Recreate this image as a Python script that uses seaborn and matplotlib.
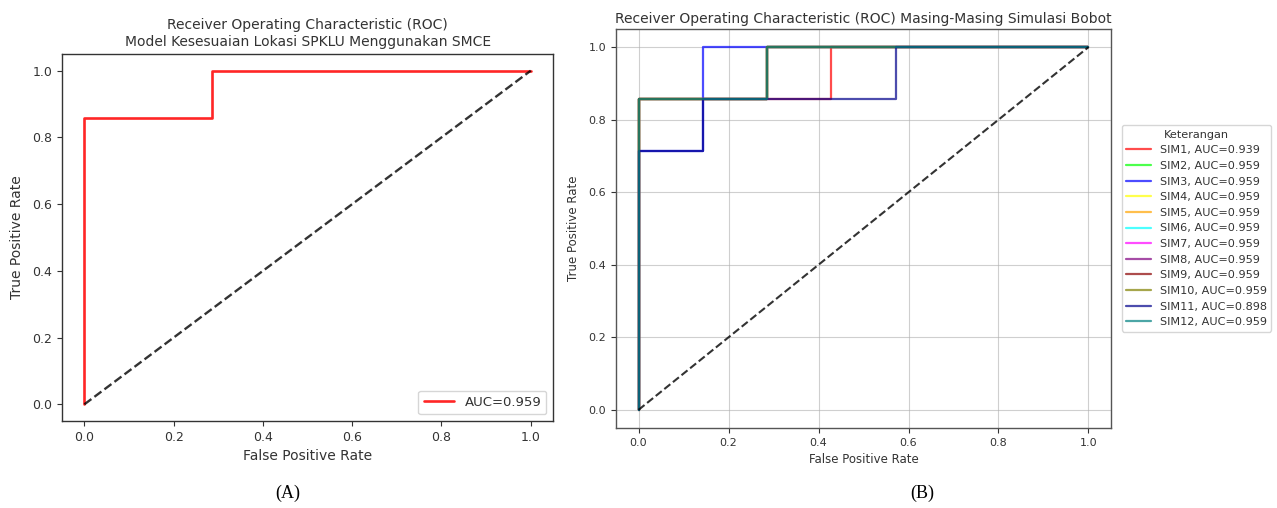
import numpy as np
import pandas as pd
import matplotlib
matplotlib.use("Agg")
import matplotlib.pyplot as plt
import seaborn as sns

# ---- data ----
# Panel A: single ROC curve
fpr_a = [0.0, 0.0, 2/7, 2/7, 1.0]
tpr_a = [0.0, 6/7, 6/7, 1.0, 1.0]
auc_a = 0.959

# Panel B: ROC curves per simulation
sim_names = ["SIM1", "SIM2", "SIM3", "SIM4", "SIM5", "SIM6",
             "SIM7", "SIM8", "SIM9", "SIM10", "SIM11", "SIM12"]
sim_auc = [0.939, 0.959, 0.959, 0.959, 0.959, 0.959,
           0.959, 0.959, 0.959, 0.959, 0.898, 0.959]
fpr_base = [0.0, 0.0, 2/7, 2/7, 1.0]
tpr_base = [0.0, 6/7, 6/7, 1.0, 1.0]
fpr_sim1 = [0.0, 0.0, 3/7, 3/7, 1.0]
tpr_sim1 = [0.0, 6/7, 6/7, 1.0, 1.0]
fpr_sim3 = [0.0, 0.0, 1/7, 1/7, 1.0]
tpr_sim3 = [0.0, 5/7, 5/7, 1.0, 1.0]
fpr_sim11 = [0.0, 0.0, 1/7, 1/7, 4/7, 4/7, 1.0]
tpr_sim11 = [0.0, 5/7, 5/7, 6/7, 6/7, 1.0, 1.0]
sim_fpr = [fpr_sim1, fpr_base, fpr_sim3, fpr_base, fpr_base, fpr_base,
           fpr_base, fpr_base, fpr_base, fpr_base, fpr_sim11, fpr_base]
sim_tpr = [tpr_sim1, tpr_base, tpr_sim3, tpr_base, tpr_base, tpr_base,
           tpr_base, tpr_base, tpr_base, tpr_base, tpr_sim11, tpr_base]
sim_colors = ["red", "lime", "blue", "yellow", "orange", "cyan",
              "magenta", "purple", "darkred", "olive", "darkblue", "teal"]

ticks = [0.0, 0.2, 0.4, 0.6, 0.8, 1.0]

sns.set_style("ticks")
plt.rcParams["font.family"] = ["DejaVu Sans"]
txt = "#333333"
plt.rcParams.update({"text.color": txt, "axes.labelcolor": txt,
                     "xtick.color": txt, "ytick.color": txt,
                     "axes.edgecolor": "#333333"})

fig = plt.figure(figsize=(12.77, 5.08), dpi=100)

# ---------- Panel A ----------
axA = fig.add_axes([0.0486, 0.1713, 0.3845, 0.7224])
dfa = pd.DataFrame({"fpr": fpr_a, "tpr": tpr_a})
sns.lineplot(data=dfa, x="fpr", y="tpr", sort=False, estimator=None,
             color="red", alpha=0.85, lw=1.9, ax=axA,
             label=f"AUC={auc_a:.3f}")
axA.plot([0, 1], [0, 1], "k--", lw=1.7, alpha=0.8)
axA.set_xlim(-0.05, 1.05)
axA.set_ylim(-0.05, 1.05)
axA.set_xticks(ticks)
axA.set_yticks(ticks)
axA.tick_params(labelsize=9, length=3.5)
axA.set_xlabel("False Positive Rate", fontsize=10, labelpad=4)
axA.set_ylabel("True Positive Rate", fontsize=10, labelpad=6)
axA.set_title("Receiver Operating Characteristic (ROC)\n"
              "Model Kesesuaian Lokasi SPKLU Menggunakan SMCE",
              fontsize=10, pad=6)
axA.legend(loc="lower right", fontsize=9.5, handlelength=2.3)
for s in axA.spines.values():
    s.set_visible(True)
    s.set_linewidth(1.0)

# ---------- Panel B ----------
axB = fig.add_axes([0.4824, 0.1575, 0.3876, 0.7854])
for name, auc, fx, ty, c in zip(sim_names, sim_auc, sim_fpr, sim_tpr, sim_colors):
    dfb = pd.DataFrame({"fpr": fx, "tpr": ty})
    sns.lineplot(data=dfb, x="fpr", y="tpr", sort=False, estimator=None,
                 color=c, alpha=0.7, lw=1.6, ax=axB,
                 label=f"{name}, AUC={auc:.3f}")
axB.plot([0, 1], [0, 1], "k--", lw=1.5, alpha=0.8)
axB.set_xlim(-0.05, 1.05)
axB.set_ylim(-0.05, 1.05)
axB.set_xticks(ticks)
axB.set_yticks(ticks)
axB.grid(True, color="#b0b0b0", alpha=0.6, lw=0.8)
axB.tick_params(labelsize=8, length=3.5)
axB.set_xlabel("False Positive Rate", fontsize=8.5, labelpad=4)
axB.set_ylabel("True Positive Rate", fontsize=8.5, labelpad=6)
axB.set_title("Receiver Operating Characteristic (ROC) Masing-Masing Simulasi Bobot",
              fontsize=10, pad=4)
leg = axB.legend(title="Keterangan", loc="center left",
                 bbox_to_anchor=(1.01, 0.5), fontsize=8.1,
                 title_fontsize=8.1, handlelength=2.2, labelspacing=0.5)
for s in axB.spines.values():
    s.set_visible(True)
    s.set_linewidth(1.0)
    s.set_color("#555555")

# ---------- captions ----------
fig.text(288 / 1277, 1 - 493 / 508, "(A)", ha="center", va="center",
         fontsize=13, family=["Liberation Serif"], color="black")
fig.text(922 / 1277, 1 - 493 / 508, "(B)", ha="center", va="center",
         fontsize=13, family=["Liberation Serif"], color="black")

fig.savefig("out.png", dpi=100)
